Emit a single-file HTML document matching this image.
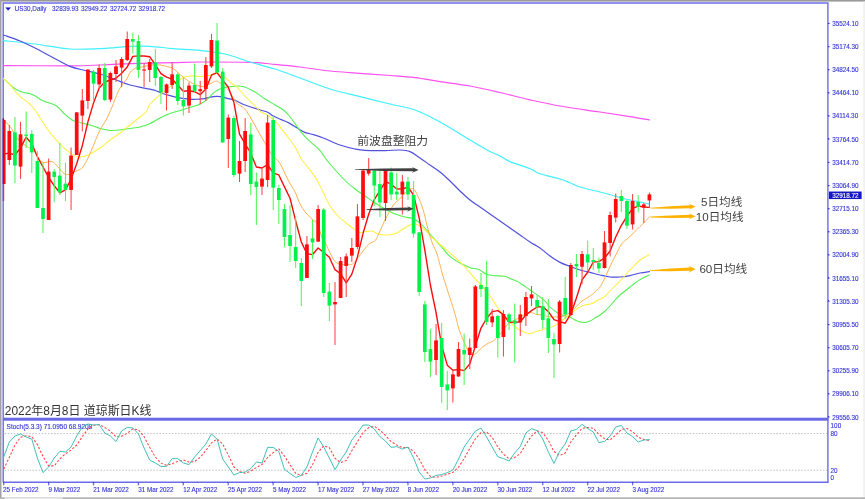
<!DOCTYPE html>
<html><head><meta charset="utf-8"><title>US30 Daily</title>
<style>html,body{margin:0;padding:0;background:#fff}svg{display:block}text{font-family:"Liberation Sans",sans-serif}</style></head><body>
<svg width="865" height="499" viewBox="0 0 865 499">
<defs>
<filter id="b" x="-5%" y="-5%" width="110%" height="110%"><feGaussianBlur stdDeviation="0.35"/></filter>
<clipPath id="c"><rect x="3.6" y="3.6" width="823.7" height="414.3"/></clipPath>
</defs>
<rect width="865" height="499" fill="#fff"/>
<rect x="0" y="0" width="865" height="1.6" fill="#9a9a9a"/>
<rect x="0" y="0" width="1.5" height="499" fill="#a2a2a2"/>
<rect x="863.2" y="1.6" width="1.8" height="497" fill="#f1f1f1"/>
<rect x="0" y="497.3" width="865" height="1.7" fill="#b4b4b4"/>
<rect x="4.6" y="497.3" width="58" height="1.7" fill="#e6e6e6"/>
<g filter="url(#b)">
<g fill="none" stroke="#6c6cea" stroke-width="1.4">
<path d="M3.2 482.2V3.0H827.9V482.2"/>
<path d="M3.2 482.3H828.6"/>
</g>
<rect x="3" y="417.7" width="825.5" height="3.0" fill="#6a6ae4"/>
<g font-size="6.35" fill="#3434d6" stroke="#3434d6" stroke-width="0.12">
<rect x="828" y="23" width="1.7" height="1" fill="#6c6cea"/>
<text x="832.2" y="25.8">35524.10</text>
<rect x="828" y="46.16" width="1.7" height="1" fill="#6c6cea"/>
<text x="832.2" y="48.96">35174.30</text>
<rect x="828" y="69.32" width="1.7" height="1" fill="#6c6cea"/>
<text x="832.2" y="72.12">34824.50</text>
<rect x="828" y="92.48" width="1.7" height="1" fill="#6c6cea"/>
<text x="832.2" y="95.28">34464.10</text>
<rect x="828" y="115.64" width="1.7" height="1" fill="#6c6cea"/>
<text x="832.2" y="118.44">34114.30</text>
<rect x="828" y="138.8" width="1.7" height="1" fill="#6c6cea"/>
<text x="832.2" y="141.6">33764.50</text>
<rect x="828" y="161.96" width="1.7" height="1" fill="#6c6cea"/>
<text x="832.2" y="164.76">33414.70</text>
<rect x="828" y="185.12" width="1.7" height="1" fill="#6c6cea"/>
<text x="832.2" y="187.92">33064.90</text>
<rect x="828" y="208.28" width="1.7" height="1" fill="#6c6cea"/>
<text x="832.2" y="211.08">32715.10</text>
<rect x="828" y="231.44" width="1.7" height="1" fill="#6c6cea"/>
<text x="832.2" y="234.24">32365.30</text>
<rect x="828" y="254.6" width="1.7" height="1" fill="#6c6cea"/>
<text x="832.2" y="257.4">32004.90</text>
<rect x="828" y="277.76" width="1.7" height="1" fill="#6c6cea"/>
<text x="832.2" y="280.56">31655.10</text>
<rect x="828" y="300.92" width="1.7" height="1" fill="#6c6cea"/>
<text x="832.2" y="303.72">31305.30</text>
<rect x="828" y="324.08" width="1.7" height="1" fill="#6c6cea"/>
<text x="832.2" y="326.88">30955.50</text>
<rect x="828" y="347.24" width="1.7" height="1" fill="#6c6cea"/>
<text x="832.2" y="350.04">30605.70</text>
<rect x="828" y="370.4" width="1.7" height="1" fill="#6c6cea"/>
<text x="832.2" y="373.2">30255.90</text>
<rect x="828" y="393.56" width="1.7" height="1" fill="#6c6cea"/>
<text x="832.2" y="396.36">29906.10</text>
<rect x="828" y="416.72" width="1.7" height="1" fill="#6c6cea"/>
<text x="832.2" y="419.52">29556.30</text>
<rect x="829" y="191.6" width="32.6" height="7.4" fill="#1414c8"/>
<text x="832.2" y="197.6" fill="#fff" stroke="#fff">32918.72</text>
<text x="830.6" y="427.6">100</text>
<text x="830.6" y="436.1">80</text>
<text x="830.6" y="472.7">20</text>
<text x="830.6" y="480.3">0</text>
<path d="M5.4 7.6H10.9L8.15 10.6Z" fill="#1414c8"/>
<text x="14.7" y="11.2">US30,Daily</text>
<text x="52.1" y="11.2">32839.93</text>
<text x="80.9" y="11.2">32949.22</text>
<text x="109.9" y="11.2">32724.72</text>
<text x="138.6" y="11.2">32918.72</text>
<text x="6.6" y="429" font-size="6.48">Stoch(5.3.3) 71.0950 68.9208</text>
<rect x="3.15" y="482" width="1.1" height="3.2" fill="#6c6cea"/>
<text x="3.1" y="492.2" font-size="6.3">25 Feb 2022</text>
<rect x="48.07" y="482" width="1.1" height="3.2" fill="#6c6cea"/>
<text x="48.42" y="492.2" font-size="6.3">9 Mar 2022</text>
<rect x="92.99" y="482" width="1.1" height="3.2" fill="#6c6cea"/>
<text x="93.34" y="492.2" font-size="6.3">21 Mar 2022</text>
<rect x="137.91" y="482" width="1.1" height="3.2" fill="#6c6cea"/>
<text x="138.26" y="492.2" font-size="6.3">31 Mar 2022</text>
<rect x="182.83" y="482" width="1.1" height="3.2" fill="#6c6cea"/>
<text x="183.18" y="492.2" font-size="6.3">12 Apr 2022</text>
<rect x="227.75" y="482" width="1.1" height="3.2" fill="#6c6cea"/>
<text x="228.1" y="492.2" font-size="6.3">25 Apr 2022</text>
<rect x="272.67" y="482" width="1.1" height="3.2" fill="#6c6cea"/>
<text x="273.02" y="492.2" font-size="6.3">5 May 2022</text>
<rect x="317.59" y="482" width="1.1" height="3.2" fill="#6c6cea"/>
<text x="317.94" y="492.2" font-size="6.3">17 May 2022</text>
<rect x="362.51" y="482" width="1.1" height="3.2" fill="#6c6cea"/>
<text x="362.86" y="492.2" font-size="6.3">27 May 2022</text>
<rect x="407.43" y="482" width="1.1" height="3.2" fill="#6c6cea"/>
<text x="407.78" y="492.2" font-size="6.3">8 Jun 2022</text>
<rect x="452.35" y="482" width="1.1" height="3.2" fill="#6c6cea"/>
<text x="452.7" y="492.2" font-size="6.3">20 Jun 2022</text>
<rect x="497.27" y="482" width="1.1" height="3.2" fill="#6c6cea"/>
<text x="497.62" y="492.2" font-size="6.3">30 Jun 2022</text>
<rect x="542.19" y="482" width="1.1" height="3.2" fill="#6c6cea"/>
<text x="542.54" y="492.2" font-size="6.3">12 Jul 2022</text>
<rect x="587.11" y="482" width="1.1" height="3.2" fill="#6c6cea"/>
<text x="587.46" y="492.2" font-size="6.3">22 Jul 2022</text>
<rect x="632.03" y="482" width="1.1" height="3.2" fill="#6c6cea"/>
<text x="632.38" y="492.2" font-size="6.3">3 Aug 2022</text>
</g>
<g stroke="#b8b8b8" stroke-width="0.9" stroke-dasharray="1.5 1.6">
<path d="M4.5 433.6H827"/><path d="M4.5 470.2H827"/>
</g>
<g fill="none" stroke-linejoin="round" stroke-linecap="round">
<path d="M3.5 65.6C14.58 65.63 53.92 65.9 70 65.8C86.08 65.7 90 65.37 100 65C110 64.63 117.83 64 130 63.6C142.17 63.2 161.33 62.87 173 62.6C184.67 62.33 187.17 62.03 200 62C212.83 61.97 237.5 62 250 62.4C262.5 62.8 266.67 63.63 275 64.4C283.33 65.17 290.83 65.9 300 67C309.17 68.1 320 69.93 330 71C340 72.07 350 72.65 360 73.4C370 74.15 380.83 74.78 390 75.5C399.17 76.22 406.67 76.68 415 77.7C423.33 78.72 430.83 80.22 440 81.6C449.17 82.98 460 84.18 470 86C480 87.82 490 90.2 500 92.5C510 94.8 520 97.55 530 99.8C540 102.05 548.33 103.97 560 106C571.67 108.03 588.33 110.23 600 112C611.67 113.77 621.75 115.27 630 116.6C638.25 117.93 646.25 119.43 649.5 120" stroke="#ff50f0" stroke-width="1.2"/>
<path d="M3.5 40.6C8.75 41.17 23.92 42.6 35 44C46.08 45.4 59.17 48.23 70 49C80.83 49.77 92.5 48.83 100 48.6C107.5 48.37 110 47.97 115 47.6C120 47.23 124.17 46.62 130 46.4C135.83 46.18 142.83 45.93 150 46.3C157.17 46.67 164.67 47.92 173 48.6C181.33 49.28 191.33 49.5 200 50.4C208.67 51.3 216.67 52.07 225 54C233.33 55.93 241.67 59.5 250 62C258.33 64.5 266.67 66.33 275 69C283.33 71.67 290.83 74.67 300 78C309.17 81.33 320 85.9 330 89C340 92.1 350 94.1 360 96.6C370 99.1 380.83 101.77 390 104C399.17 106.23 406.67 107 415 110C423.33 113 430.83 117 440 122C449.17 127 462.17 135.33 470 140C477.83 144.67 482 147.33 487 150C492 152.67 496.17 154.07 500 156C503.83 157.93 505 159.48 510 161.6C515 163.72 525 166.68 530 168.7C535 170.72 535 171.98 540 173.7C545 175.42 555 177.5 560 179C565 180.5 566.67 181.37 570 182.7C573.33 184.03 575 185.45 580 187C585 188.55 594.17 190.5 600 192C605.83 193.5 610.83 194.83 615 196C619.17 197.17 621.67 198.17 625 199C628.33 199.83 631.67 200.33 635 201C638.33 201.67 642.58 202.5 645 203C647.42 203.5 648.75 203.83 649.5 204" stroke="#40f0ff" stroke-width="1.2"/>
<path d="M3.5 35C6.25 36 14.75 38.83 20 41C25.25 43.17 30 45.5 35 48C40 50.5 44.17 52.93 50 56C55.83 59.07 64.17 63.98 70 66.4C75.83 68.82 80 69.23 85 70.5C90 71.77 95 72.5 100 74C105 75.5 110 77.67 115 79.5C120 81.33 124.17 83.38 130 85C135.83 86.62 145.67 88.25 150 89.2C154.33 90.15 154 90.03 156 90.7C158 91.37 159.65 92.37 162 93.2C164.35 94.03 167.4 94.95 170.1 95.7C172.8 96.45 175.68 97.2 178.2 97.7C180.72 98.2 182.85 98.42 185.2 98.7C187.55 98.98 190.12 99.32 192.3 99.4C194.48 99.48 196.3 99.32 198.3 99.2C200.3 99.08 202.28 99.03 204.3 98.7C206.32 98.37 208.38 97.58 210.4 97.2C212.42 96.82 214.73 96.48 216.4 96.4C218.07 96.32 218.72 96.4 220.4 96.7C222.08 97 224.48 97.7 226.5 98.2C228.52 98.7 230.75 99.2 232.5 99.7C234.25 100.2 234.92 100.32 237 101.2C239.08 102.08 241.15 103.53 245 105C248.85 106.47 256.4 108.83 260.1 110C263.8 111.17 265.02 111 267.2 112C269.38 113 270.85 114.73 273.2 116C275.55 117.27 278.62 118.42 281.3 119.6C283.98 120.78 286.62 121.68 289.3 123.1C291.98 124.52 294.72 126.52 297.4 128.1C300.08 129.68 302.72 131.52 305.4 132.6C308.08 133.68 310.4 133.67 313.5 134.6C316.6 135.53 319.58 136.47 324 138.2C328.42 139.93 334.83 143.2 340 145C345.17 146.8 350.83 148.1 355 149C359.17 149.9 360 150.13 365 150.4C370 150.67 379.17 150.67 385 150.6C390.83 150.53 395.83 149.83 400 150C404.17 150.17 406.67 150.27 410 151.6C413.33 152.93 416.67 155.77 420 158C423.33 160.23 426.67 162.67 430 165C433.33 167.33 436.67 169.33 440 172C443.33 174.67 446.67 177.83 450 181C453.33 184.17 456.67 187.83 460 191C463.33 194.17 466.67 197.33 470 200C473.33 202.67 476.67 204.67 480 207C483.33 209.33 486.67 211.67 490 214C493.33 216.33 496.67 218.67 500 221C503.33 223.33 506.67 225.67 510 228C513.33 230.33 516.67 232.67 520 235C523.33 237.33 526.67 239.83 530 242C533.33 244.17 536.67 245.67 540 248C543.33 250.33 546.67 253.6 550 256C553.33 258.4 556.67 260.67 560 262.4C563.33 264.13 566.67 265.13 570 266.4C573.33 267.67 576.67 269 580 270C583.33 271 586.67 271.57 590 272.4C593.33 273.23 596.67 274.23 600 275C603.33 275.77 606.67 276.67 610 277C613.33 277.33 616.67 277.23 620 277C623.33 276.77 626.67 276.27 630 275.6C633.33 274.93 636.75 273.67 640 273C643.25 272.33 647.92 271.83 649.5 271.6" stroke="#5050e0" stroke-width="1.2"/>
<path d="M3.5 78.6C4.58 79.6 8.08 82.92 10 84.6C11.92 86.28 13.33 87.6 15 88.7C16.67 89.8 18.33 90.53 20 91.2C21.67 91.87 23.33 92.28 25 92.7C26.67 93.12 28.33 93.2 30 93.7C31.67 94.2 33.33 94.78 35 95.7C36.67 96.62 38.28 98.2 40 99.2C41.72 100.2 43.58 101.02 45.3 101.7C47.02 102.38 48.63 102.7 50.3 103.3C51.97 103.9 53.62 104.3 55.3 105.3C56.98 106.3 58.95 107.93 60.4 109.3C61.85 110.67 62.07 111.72 64 113.5C65.93 115.28 69.33 118.52 72 120C74.67 121.48 77 121.57 80 122.4C83 123.23 86.67 124 90 125C93.33 126 96.67 127.5 100 128.4C103.33 129.3 106.67 130.13 110 130.4C113.33 130.67 116.67 130.33 120 130C123.33 129.67 126.67 128.9 130 128.4C133.33 127.9 136.67 127.8 140 127C143.33 126.2 146.67 125.1 150 123.6C153.33 122.1 156.67 119.68 160 118C163.33 116.32 166.47 114.8 170 113.5C173.53 112.2 177.83 111.23 181.2 110.2C184.57 109.17 187.52 108.12 190.2 107.3C192.88 106.48 195.12 106.13 197.3 105.3C199.48 104.47 201.45 103.48 203.3 102.3C205.15 101.12 206.55 99.88 208.4 98.2C210.25 96.52 212.4 93.78 214.4 92.2C216.4 90.62 218.38 89.53 220.4 88.7C222.42 87.87 224.48 87.58 226.5 87.2C228.52 86.82 229.75 86.53 232.5 86.4C235.25 86.27 239.25 85.47 243 86.4C246.75 87.33 251.33 89.9 255 92C258.67 94.1 261.67 96.83 265 99C268.33 101.17 271.95 103.17 275 105C278.05 106.83 280.92 108.17 283.3 110C285.68 111.83 287.28 113.65 289.3 116C291.32 118.35 293.55 121.58 295.4 124.1C297.25 126.62 298.4 128.58 300.4 131.1C302.4 133.62 304.88 136.68 307.4 139.2C309.92 141.72 313.32 144.2 315.5 146.2C317.68 148.2 319.08 149.52 320.5 151.2C321.92 152.88 322.42 154.17 324 156.3C325.58 158.43 326.5 159.97 330 164C333.5 168.03 340.83 176.33 345 180.5C349.17 184.67 351.67 186.42 355 189C358.33 191.58 361.67 193.67 365 196C368.33 198.33 371.67 200.83 375 203C378.33 205.17 381.67 207.17 385 209C388.33 210.83 391.67 212.67 395 214C398.33 215.33 402.17 216.28 405 217C407.83 217.72 409.83 217.55 412 218.3C414.17 219.05 416.33 220.38 418 221.5C419.67 222.62 420.33 223.33 422 225C423.67 226.67 425.67 228.87 428 231.5C430.33 234.13 434 238.47 436 240.8C438 243.13 438.67 244.03 440 245.5C441.33 246.97 442.82 248.25 444 249.6C445.18 250.95 445.42 251.93 447.1 253.6C448.78 255.27 451.58 257.85 454.1 259.6C456.62 261.35 459.52 262.75 462.2 264.1C464.88 265.45 467.35 266.77 470.2 267.7C473.05 268.63 476.62 268.62 479.3 269.7C481.98 270.78 483.78 273.2 486.3 274.2C488.82 275.2 491.38 275.37 494.4 275.7C497.42 276.03 501.72 275.7 504.4 276.2C507.08 276.7 508.4 277.87 510.5 278.7C512.6 279.53 515.42 280.48 517 281.2C518.58 281.92 517.83 281.53 520 283C522.17 284.47 526.67 287.67 530 290C533.33 292.33 537.5 295.17 540 297C542.5 298.83 543.33 299.33 545 301C546.67 302.67 548.33 305.33 550 307C551.67 308.67 553.33 309.77 555 311C556.67 312.23 558.33 313.63 560 314.4C561.67 315.17 563.33 315.17 565 315.6C566.67 316.03 568.33 316.27 570 317C571.67 317.73 573.33 319.17 575 320C576.67 320.83 578.33 321.6 580 322C581.67 322.4 583.33 322.57 585 322.4C586.67 322.23 588.33 321.73 590 321C591.67 320.27 593.33 319 595 318C596.67 317 598.33 316.17 600 315C601.67 313.83 603.33 312.5 605 311C606.67 309.5 608.33 307.83 610 306C611.67 304.17 613.33 301.83 615 300C616.67 298.17 618.33 296.5 620 295C621.67 293.5 623.33 292.33 625 291C626.67 289.67 628.33 288.33 630 287C631.67 285.67 633.33 284.23 635 283C636.67 281.77 638.33 280.6 640 279.6C641.67 278.6 643.42 277.77 645 277C646.58 276.23 648.75 275.33 649.5 275" stroke="#50f050" stroke-width="1.05"/>
<path d="M3.5 78.6C4.25 79.33 6.75 81.82 8 83C9.25 84.18 9.83 84.33 11 85.7C12.17 87.07 13.5 89.37 15 91.2C16.5 93.03 18.33 95.2 20 96.7C21.67 98.2 23.3 98.93 25 100.2C26.7 101.47 28.58 102.7 30.2 104.3C31.82 105.9 33.03 107.52 34.7 109.8C36.37 112.08 38.1 114.8 40.2 118C42.3 121.2 44.62 125.3 47.3 129C49.98 132.7 53.45 136.98 56.3 140.2C59.15 143.42 61.72 145.9 64.4 148.3C67.08 150.7 69.8 153.15 72.4 154.6C75 156.05 77.4 156.93 80 157C82.6 157.07 84.67 156.5 88 155C91.33 153.5 96.33 150.5 100 148C103.67 145.5 106.67 142.5 110 140C113.33 137.5 116.67 135.5 120 133C123.33 130.5 126.67 127.67 130 125C133.33 122.33 137.33 119.17 140 117C142.67 114.83 144.33 114.12 146 112C147.67 109.88 148.33 106.6 150 104.3C151.67 102 154 100.05 156 98.2C158 96.35 159.65 95.12 162 93.2C164.35 91.28 167.73 88.55 170.1 86.7C172.47 84.85 174.02 83.62 176.2 82.1C178.38 80.58 180.87 78.6 183.2 77.6C185.53 76.6 188.35 76.38 190.2 76.1C192.05 75.82 192.62 75.82 194.3 75.9C195.98 75.98 198.63 76.57 200.3 76.6C201.97 76.63 202.62 76.35 204.3 76.1C205.98 75.85 208.55 75.6 210.4 75.1C212.25 74.6 213.73 73.18 215.4 73.1C217.07 73.02 218.55 73.68 220.4 74.6C222.25 75.52 224.48 77.02 226.5 78.6C228.52 80.18 230.75 82.67 232.5 84.1C234.25 85.53 234.92 85.22 237 87.2C239.08 89.18 242 92.87 245 96C248 99.13 252.32 103.33 255 106C257.68 108.67 259.07 110.5 261.1 112C263.13 113.5 265.35 113.9 267.2 115C269.05 116.1 270.53 117.25 272.2 118.6C273.87 119.95 275.52 121.18 277.2 123.1C278.88 125.02 280.62 127.92 282.3 130.1C283.98 132.28 285.47 133.85 287.3 136.2C289.13 138.55 291.62 141.7 293.3 144.2C294.98 146.7 296.05 148.68 297.4 151.2C298.75 153.72 299.3 156.17 301.4 159.3C303.5 162.43 307.4 166.55 310 170C312.6 173.45 314.83 176.33 317 180C319.17 183.67 320.83 187.67 323 192C325.17 196.33 327.5 202 330 206C332.5 210 335.33 213.17 338 216C340.67 218.83 343.33 220.83 346 223C348.67 225.17 351.67 227.43 354 229C356.33 230.57 358 231.97 360 232.4C362 232.83 364 231.83 366 231.6C368 231.37 370 230.6 372 231C374 231.4 375.83 233.33 378 234C380.17 234.67 382.83 234.93 385 235C387.17 235.07 389 234.73 391 234.4C393 234.07 395 233.9 397 233C399 232.1 400.5 230.5 403 229C405.5 227.5 409.5 224.67 412 224C414.5 223.33 415.83 224 418 225C420.17 226 422.67 227.92 425 230C427.33 232.08 428.98 234.67 432 237.5C435.02 240.33 439.58 243.98 443.1 247C446.62 250.02 449.75 252.57 453.1 255.6C456.45 258.63 460.35 262.27 463.2 265.2C466.05 268.13 467.85 270.53 470.2 273.2C472.55 275.87 475.28 279.02 477.3 281.2C479.32 283.38 480.18 283.83 482.3 286.3C484.42 288.77 487.38 292.38 490 296C492.62 299.62 495.5 304.33 498 308C500.5 311.67 502.67 315.33 505 318C507.33 320.67 509.83 322.17 512 324C514.17 325.83 516 327.67 518 329C520 330.33 522 331.23 524 332C526 332.77 528 333.67 530 333.6C532 333.53 534 332.2 536 331.6C538 331 540 330.6 542 330C544 329.4 545.83 328.77 548 328C550.17 327.23 552.67 326.65 555 325.4C557.33 324.15 559.83 322.07 562 320.5C564.17 318.93 566.17 317.42 568 316C569.83 314.58 571.33 313.33 573 312C574.67 310.67 576 309.17 578 308C580 306.83 582.67 305.73 585 305C587.33 304.27 589.83 304.43 592 303.6C594.17 302.77 596 301.1 598 300C600 298.9 602 298.5 604 297C606 295.5 608 293 610 291C612 289 614 287 616 285C618 283 620 281.17 622 279C624 276.83 626 274.17 628 272C630 269.83 632 268 634 266C636 264 638.17 261.5 640 260C641.83 258.5 643.42 257.9 645 257C646.58 256.1 648.75 255 649.5 254.6" stroke="#fff040" stroke-width="1.05"/>
<path d="M4 120C5 121.1 8.5 124.77 10 126.6C11.5 128.43 11.83 129.1 13 131C14.17 132.9 15.33 135.88 17 138C18.67 140.12 20.83 141.98 23 143.7C25.17 145.42 28.33 147.42 30 148.3C31.67 149.18 31.67 147.55 33 149C34.33 150.45 36.33 154.77 38 157C39.67 159.23 40.67 161.63 43 162.4C45.33 163.17 49.5 160.83 52 161.6C54.5 162.37 56 165 58 167C60 169 62.17 172.37 64 173.6C65.83 174.83 67 174.83 69 174.4C71 173.97 73.83 172.07 76 171C78.17 169.93 80 170.17 82 168C84 165.83 86 162 88 158C90 154 92 148.67 94 144C96 139.33 98 134 100 130C102 126 104 123.83 106 120C108 116.17 110 111.67 112 107C114 102.33 116 96.17 118 92C120 87.83 122.63 83.97 124 82C125.37 80.03 125.15 81.82 126.2 80.2C127.25 78.58 128.78 74.3 130.3 72.3C131.82 70.3 133.47 69.05 135.3 68.2C137.13 67.35 139.28 67.62 141.3 67.2C143.32 66.78 145.05 66.12 147.4 65.7C149.75 65.28 153.05 64.78 155.4 64.7C157.75 64.62 159.48 64.87 161.5 65.2C163.52 65.53 165.75 66.28 167.5 66.7C169.25 67.12 170.72 67.13 172 67.7C173.28 68.27 173.83 68.95 175.2 70.1C176.57 71.25 178.53 73.18 180.2 74.6C181.87 76.02 183.53 77.35 185.2 78.6C186.87 79.85 188.52 81.1 190.2 82.1C191.88 83.1 193.62 83.92 195.3 84.6C196.98 85.28 198.8 85.85 200.3 86.2C201.8 86.55 202.95 86.97 204.3 86.7C205.65 86.43 207.05 85.28 208.4 84.6C209.75 83.92 211.07 83.18 212.4 82.6C213.73 82.02 215.07 81.02 216.4 81.1C217.73 81.18 219.07 82.25 220.4 83.1C221.73 83.95 223.05 85.02 224.4 86.2C225.75 87.38 226.98 88.2 228.5 90.2C230.02 92.2 232.08 96.02 233.5 98.2C234.92 100.38 236 102.13 237 103.3C238 104.47 238.15 104.2 239.5 105.2C240.85 106.2 243.22 107.17 245.1 109.3C246.98 111.43 248.92 114.88 250.8 118C252.68 121.12 254.53 124.67 256.4 128C258.27 131.33 260.13 134.8 262 138C263.87 141.2 265.98 144.48 267.6 147.2C269.22 149.92 269.63 151.58 271.7 154.3C273.77 157.02 277.28 159.22 280 163.5C282.72 167.78 285.5 175.25 288 180C290.5 184.75 293 188 295 192C297 196 298.17 200.5 300 204C301.83 207.5 304 210.5 306 213C308 215.5 310 217 312 219C314 221 316.33 221.83 318 225C319.67 228.17 320.72 234.83 322 238C323.28 241.17 324.33 241.48 325.7 244C327.07 246.52 328.78 250.33 330.2 253.1C331.62 255.87 332.87 258.85 334.2 260.6C335.53 262.35 336.68 262.93 338.2 263.6C339.72 264.27 341.62 264.43 343.3 264.6C344.98 264.77 346.8 264.68 348.3 264.6C349.8 264.52 350.97 264.85 352.3 264.1C353.63 263.35 354.95 261.68 356.3 260.1C357.65 258.52 359.05 256.43 360.4 254.6C361.75 252.77 363.07 250.78 364.4 249.1C365.73 247.42 367.07 245.68 368.4 244.5C369.73 243.32 371.22 242.7 372.4 242C373.58 241.3 374.23 242.13 375.5 240.3C376.77 238.47 378.42 234.38 380 231C381.58 227.62 382.78 224.3 385 220C387.22 215.7 390.92 208.65 393.3 205.2C395.68 201.75 397.28 201.38 399.3 199.3C401.32 197.22 403.55 194.47 405.4 192.7C407.25 190.93 408.9 189.2 410.4 188.7C411.9 188.2 413.23 188.62 414.4 189.7C415.57 190.78 416.38 193.1 417.4 195.2C418.42 197.3 419.4 199.33 420.5 202.3C421.6 205.27 422.72 208.38 424 213C425.28 217.62 426.77 224.83 428.2 230C429.63 235.17 431.13 240 432.6 244C434.07 248 435.27 248.67 437 254C438.73 259.33 440.83 268.67 443 276C445.17 283.33 448 291.67 450 298C452 304.33 453.47 308.67 455 314C456.53 319.33 457.82 325.67 459.2 330C460.58 334.33 461.95 336.82 463.3 340C464.65 343.18 465.97 346.67 467.3 349.1C468.63 351.53 470.05 353.77 471.3 354.6C472.55 355.43 473.62 354.68 474.8 354.1C475.98 353.52 477.13 352.27 478.4 351.1C479.67 349.93 480.73 348.43 482.4 347.1C484.07 345.77 486.73 344.02 488.4 343.1C490.07 342.18 491.05 342.45 492.4 341.6C493.75 340.75 494.9 339.6 496.5 338C498.1 336.4 500.08 334.33 502 332C503.92 329.67 505.88 326 508 324C510.12 322 512.65 321.17 514.7 320C516.75 318.83 518.43 318 520.3 317C522.17 316 524.03 314.73 525.9 314C527.77 313.27 529.65 312.5 531.5 312.6C533.35 312.7 535.13 314.2 537 314.6C538.87 315 540.82 314.65 542.7 315C544.58 315.35 546.42 316.37 548.3 316.7C550.18 317.03 552.12 317 554 317C555.88 317 557.73 316.93 559.6 316.7C561.47 316.47 563.33 316.47 565.2 315.6C567.07 314.73 568.93 313.02 570.8 311.5C572.67 309.98 574.53 308.25 576.4 306.5C578.27 304.75 580.12 302.5 582 301C583.88 299.5 585.82 298.75 587.7 297.5C589.58 296.25 591.8 294.72 593.3 293.5C594.8 292.28 595.55 291.32 596.7 290.2C597.85 289.08 598.93 288.63 600.2 286.8C601.47 284.97 602.95 281.97 604.3 279.2C605.65 276.43 606.97 273.13 608.3 270.2C609.63 267.27 610.97 264.3 612.3 261.6C613.63 258.9 614.95 256.6 616.3 254C617.65 251.4 619.22 248 620.4 246C621.58 244 622.13 243.3 623.4 242C624.67 240.7 626.23 239.78 628 238.2C629.77 236.62 632 234.45 634 232.5C636 230.55 638.17 228.3 640 226.5C641.83 224.7 643.42 223.35 645 221.7C646.58 220.05 648.75 217.45 649.5 216.6" stroke="#ffb050" stroke-width="1.0"/>
<path d="M3.7 154L9.32 153.12L14.93 154.97L20.54 147.91L26.16 137.19L31.78 143.74L37.39 156.72L43.01 167.01L48.62 177.3L54.24 185.76L59.85 192.81L65.47 189.89L71.08 179.12L76.7 163.8L82.31 145.69L87.93 121.92L93.54 102.89L99.16 88.12L104.77 82.03L110.39 80.01L116 78.2L121.62 73.18L127.23 66.94L132.84 56.4L138.46 55.85L144.07 55.99L149.69 56.7L155.31 64.61L160.92 73.71L166.53 77.11L172.15 79.08L177.76 85.16L183.38 91.18L189 90.7L194.61 91.71L200.22 94.68L205.84 89.1L211.45 75.21L217.07 72.61L222.69 80.08L228.3 87.2L233.91 102.39L239.53 134.15L245.15 143.78L250.76 153.23L256.38 166.94L261.99 168L267.61 164.55L273.22 173.07L278.83 174.94L284.45 186.9L290.06 198.26L295.68 220.92L301.3 241.98L306.91 253.6L312.52 254.57L318.14 248.03L323.75 252.56L329.37 257.27L334.99 269.67L340.6 273.7L346.21 282.78L351.83 274.11L357.44 256.9L363.06 233.29L368.68 214.23L374.29 199.53L379.91 190.69L385.52 181.71L391.13 184.23L396.75 188.96L402.37 188.9L407.98 187.21L413.6 195.19L419.21 218.05L424.82 250.16L430.44 285.25L436.06 312.59L441.67 345.79L447.29 365.15L452.9 370.2L458.51 369.4L464.13 370.67L469.75 364.06L475.36 346.13L480.98 328.07L486.59 318.52L492.2 311.6L497.82 310.61L503.44 314.65L509.05 322.2L514.67 322.4L520.28 321.7L525.9 315.01L531.51 310.59L537.13 307L542.74 306.64L548.36 311.68L553.97 319.66L559.59 321.69L565.2 323.2L570.82 313.96L576.43 297.9L582.05 279.94L587.66 272.25L593.28 262.05L598.89 261.6L604.51 257.99L610.12 250.95L615.74 237.04L621.35 225.3L626.97 216.31L632.58 208.42L638.2 206.04L643.81 207.05L649.43 207.4" stroke="#f41010" stroke-width="1.4"/>
<path d="M3.7 469L9.32 457.5L14.93 445L20.54 437.33L26.16 435.67L31.78 436.67L37.39 444.67L43.01 456.53L48.62 465.87L54.24 465.87L59.85 458.8L65.47 453.8L71.08 450.13L76.7 445L82.31 436.67L87.93 429L93.54 425.33L99.16 424.53L104.77 427.53L110.39 431.2L116 436.87L121.62 436.2L127.23 433.33L132.84 428.8L138.46 429.8L144.07 436.67L149.69 447.33L155.31 457L160.92 463.13L166.53 465.3L172.15 463.83L177.76 461.23L183.38 460.07L189 462.07L194.61 461.53L200.22 457.4L205.84 450.53L211.45 442.87L217.07 439L222.69 444L228.3 455L233.91 467L239.53 471.53L245.15 473.2L250.76 471.07L256.38 467.53L261.99 464.53L267.61 457.47L273.22 452.6L278.83 448.73L284.45 456.07L290.06 464.73L295.68 473.4L301.3 475.4L306.91 473.27L312.52 464.8L318.14 452.33L323.75 445.67L329.37 447.67L334.99 458.23L340.6 462.57L346.21 460.57L351.83 450.67L357.44 441.67L363.06 432.67L368.68 427.67L374.29 426.33L379.91 430.2L385.52 435.53L391.13 441.67L396.75 445L402.37 447.67L407.98 447.53L413.6 451.33L419.21 459L424.82 469.67L430.44 476.33L436.06 477.47L441.67 476L447.29 474.2L452.9 472.4L458.51 467.2L464.13 458.67L469.75 448.33L475.36 439L480.98 432.67L486.59 432L492.2 437.33L497.82 446.93L503.44 454.13L509.05 458.8L514.67 457.53L520.28 453.53L525.9 444.2L531.51 436.07L537.13 430.73L542.74 432.73L548.36 440.53L553.97 451.47L559.59 455.6L565.2 452.93L570.82 442.13L576.43 434.8L582.05 428.27L587.66 427.47L593.28 428.33L598.89 434.4L604.51 438.67L610.12 440L615.74 434.8L621.35 429.47L626.97 428.47L632.58 431.67L638.2 437.2L643.81 439.53L649.43 440.53" stroke="#ff4040" stroke-width="1.05" stroke-dasharray="2.2 1.8" stroke-linecap="butt"/>
<path d="M3.7 457L9.32 442L14.93 436L20.54 434L26.16 437L31.78 439L37.39 458L43.01 472.6L48.62 467L54.24 458L59.85 451.4L65.47 452L71.08 447L76.7 436L82.31 427L87.93 424L93.54 425L99.16 424.6L104.77 433L110.39 436L116 441.6L121.62 431L127.23 427.4L132.84 428L138.46 434L144.07 448L149.69 460L155.31 463L160.92 466.4L166.53 466.5L172.15 458.6L177.76 458.6L183.38 463L189 464.6L194.61 457L200.22 450.6L205.84 444L211.45 434L217.07 439L222.69 459L228.3 467L233.91 475L239.53 472.6L245.15 472L250.76 468.6L256.38 462L261.99 463L267.61 447.4L273.22 447.4L278.83 451.4L284.45 469.4L290.06 473.4L295.68 477.4L301.3 475.4L306.91 467L312.52 452L318.14 438L323.75 447L329.37 458L334.99 469.7L340.6 460L346.21 452L351.83 440L357.44 433L363.06 425L368.68 425L374.29 429L379.91 436.6L385.52 441L391.13 447.4L396.75 446.6L402.37 449L407.98 447L413.6 458L419.21 472L424.82 479L430.44 478L436.06 475.4L441.67 474.6L447.29 472.6L452.9 470L458.51 459L464.13 447L469.75 439L475.36 431L480.98 428L486.59 437L492.2 447L497.82 456.8L503.44 458.6L509.05 461L514.67 453L520.28 446.6L525.9 433L531.51 428.6L537.13 430.6L542.74 439L548.36 452L553.97 463.4L559.59 451.4L565.2 444L570.82 431L576.43 429.4L582.05 424.4L587.66 428.6L593.28 432L598.89 442.6L604.51 441.4L610.12 436L615.74 427L621.35 425.4L626.97 433L632.58 436.6L638.2 442L643.81 440L649.43 439.6" stroke="#38bcb4" stroke-width="0.95"/>
</g>
<g clip-path="url(#c)">
<path d="M3.7 118V201" stroke="#ff4444" stroke-width="1.05"/>
<rect x="1.85" y="120" width="3.7" height="64" fill="#ff0808"/>
<path d="M9.32 125V165" stroke="#ff4444" stroke-width="1.05"/>
<rect x="7.47" y="131" width="3.7" height="29" fill="#ff0808"/>
<path d="M14.93 117V183" stroke="#50f658" stroke-width="1.05"/>
<rect x="13.08" y="132.4" width="3.7" height="33.2" fill="#00f24c"/>
<path d="M20.54 122V179" stroke="#ff4444" stroke-width="1.05"/>
<rect x="18.69" y="134.4" width="3.7" height="32.2" fill="#ff0808"/>
<path d="M26.16 111.5V148" stroke="#50f658" stroke-width="1.05"/>
<rect x="24.31" y="134.6" width="3.7" height="1.2" fill="#00f24c"/>
<path d="M31.78 130V173" stroke="#50f658" stroke-width="1.05"/>
<rect x="29.93" y="134" width="3.7" height="18.4" fill="#00f24c"/>
<path d="M37.39 151V208" stroke="#50f658" stroke-width="1.05"/>
<rect x="35.54" y="161" width="3.7" height="47" fill="#00f24c"/>
<path d="M43.01 163V233" stroke="#50f658" stroke-width="1.05"/>
<rect x="41.16" y="208" width="3.7" height="11" fill="#00f24c"/>
<path d="M48.62 158.6V220" stroke="#ff4444" stroke-width="1.05"/>
<rect x="46.77" y="171.6" width="3.7" height="48.4" fill="#ff0808"/>
<path d="M54.24 169V202" stroke="#50f658" stroke-width="1.05"/>
<rect x="52.39" y="171.6" width="3.7" height="5.4" fill="#00f24c"/>
<path d="M59.85 143V195" stroke="#50f658" stroke-width="1.05"/>
<rect x="58" y="175.6" width="3.7" height="16.8" fill="#00f24c"/>
<path d="M65.47 162.4V201" stroke="#50f658" stroke-width="1.05"/>
<rect x="63.62" y="183.6" width="3.7" height="6.4" fill="#00f24c"/>
<path d="M71.08 147.6V210" stroke="#ff4444" stroke-width="1.05"/>
<rect x="69.23" y="155.6" width="3.7" height="34.4" fill="#ff0808"/>
<path d="M76.7 112V155" stroke="#ff4444" stroke-width="1.05"/>
<rect x="74.85" y="112.4" width="3.7" height="42.6" fill="#ff0808"/>
<path d="M82.31 89V131.6" stroke="#ff4444" stroke-width="1.05"/>
<rect x="80.46" y="100.4" width="3.7" height="15.2" fill="#ff0808"/>
<path d="M87.93 69V109" stroke="#ff4444" stroke-width="1.05"/>
<rect x="86.08" y="69.6" width="3.7" height="31.4" fill="#ff0808"/>
<path d="M93.54 70V102" stroke="#50f658" stroke-width="1.05"/>
<rect x="91.69" y="71.6" width="3.7" height="12" fill="#00f24c"/>
<path d="M99.16 64.4V88" stroke="#ff4444" stroke-width="1.05"/>
<rect x="97.31" y="68" width="3.7" height="16.4" fill="#ff0808"/>
<path d="M104.77 63V101" stroke="#50f658" stroke-width="1.05"/>
<rect x="102.92" y="68" width="3.7" height="32" fill="#00f24c"/>
<path d="M110.39 71.6V102" stroke="#ff4444" stroke-width="1.05"/>
<rect x="108.54" y="73" width="3.7" height="26.6" fill="#ff0808"/>
<path d="M116 60V82" stroke="#ff4444" stroke-width="1.05"/>
<rect x="114.15" y="66.4" width="3.7" height="7.6" fill="#ff0808"/>
<path d="M121.62 57V87" stroke="#ff4444" stroke-width="1.05"/>
<rect x="119.77" y="59" width="3.7" height="8.6" fill="#ff0808"/>
<path d="M127.23 31.6V61" stroke="#ff4444" stroke-width="1.05"/>
<rect x="125.38" y="39" width="3.7" height="21" fill="#ff0808"/>
<path d="M132.84 32.4V53.6" stroke="#50f658" stroke-width="1.05"/>
<rect x="131" y="39" width="3.7" height="2.6" fill="#00f24c"/>
<path d="M138.46 35V78" stroke="#50f658" stroke-width="1.05"/>
<rect x="136.61" y="41" width="3.7" height="29" fill="#00f24c"/>
<path d="M144.07 63V87" stroke="#ff4444" stroke-width="1.05"/>
<rect x="142.22" y="69.45" width="3.7" height="1.1" fill="#ff0808"/>
<path d="M149.69 59V82" stroke="#ff4444" stroke-width="1.05"/>
<rect x="147.84" y="62" width="3.7" height="8" fill="#ff0808"/>
<path d="M155.31 49V86" stroke="#50f658" stroke-width="1.05"/>
<rect x="153.46" y="62.4" width="3.7" height="15.6" fill="#00f24c"/>
<path d="M160.92 76V104" stroke="#50f658" stroke-width="1.05"/>
<rect x="159.07" y="77" width="3.7" height="15.4" fill="#00f24c"/>
<path d="M166.53 83.6V110.4" stroke="#ff4444" stroke-width="1.05"/>
<rect x="164.69" y="84.4" width="3.7" height="8.6" fill="#ff0808"/>
<path d="M172.15 62.4V89" stroke="#ff4444" stroke-width="1.05"/>
<rect x="170.3" y="74.4" width="3.7" height="10.6" fill="#ff0808"/>
<path d="M177.76 72.4V105" stroke="#50f658" stroke-width="1.05"/>
<rect x="175.91" y="74.4" width="3.7" height="26.6" fill="#00f24c"/>
<path d="M183.38 78V115.6" stroke="#50f658" stroke-width="1.05"/>
<rect x="181.53" y="100" width="3.7" height="6.4" fill="#00f24c"/>
<path d="M189 82.4V113" stroke="#ff4444" stroke-width="1.05"/>
<rect x="187.15" y="85.6" width="3.7" height="20" fill="#ff0808"/>
<path d="M194.61 63.6V92" stroke="#50f658" stroke-width="1.05"/>
<rect x="192.76" y="85" width="3.7" height="6" fill="#00f24c"/>
<path d="M200.22 81V104" stroke="#ff4444" stroke-width="1.05"/>
<rect x="198.38" y="89.2" width="3.7" height="2" fill="#ff0808"/>
<path d="M205.84 57V101" stroke="#ff4444" stroke-width="1.05"/>
<rect x="203.99" y="65" width="3.7" height="24" fill="#ff0808"/>
<path d="M211.45 34V68" stroke="#ff4444" stroke-width="1.05"/>
<rect x="209.6" y="40" width="3.7" height="26.4" fill="#ff0808"/>
<path d="M217.07 23V73" stroke="#50f658" stroke-width="1.05"/>
<rect x="215.22" y="40.6" width="3.7" height="31.8" fill="#00f24c"/>
<path d="M222.69 68V143" stroke="#50f658" stroke-width="1.05"/>
<rect x="220.84" y="71.6" width="3.7" height="70.8" fill="#00f24c"/>
<path d="M228.3 114.4V168" stroke="#ff4444" stroke-width="1.05"/>
<rect x="226.45" y="117.6" width="3.7" height="21.4" fill="#ff0808"/>
<path d="M233.91 115.6V177" stroke="#50f658" stroke-width="1.05"/>
<rect x="232.06" y="118" width="3.7" height="57" fill="#00f24c"/>
<path d="M239.53 141V182" stroke="#ff4444" stroke-width="1.05"/>
<rect x="237.68" y="161" width="3.7" height="12.6" fill="#ff0808"/>
<path d="M245.15 118V172" stroke="#ff4444" stroke-width="1.05"/>
<rect x="243.3" y="131" width="3.7" height="30" fill="#ff0808"/>
<path d="M250.76 123V195" stroke="#50f658" stroke-width="1.05"/>
<rect x="248.91" y="134.4" width="3.7" height="49.6" fill="#00f24c"/>
<path d="M256.38 172.4V225" stroke="#50f658" stroke-width="1.05"/>
<rect x="254.53" y="181.6" width="3.7" height="5.4" fill="#00f24c"/>
<path d="M261.99 168V195" stroke="#ff4444" stroke-width="1.05"/>
<rect x="260.14" y="178.6" width="3.7" height="8" fill="#ff0808"/>
<path d="M267.61 115V187" stroke="#ff4444" stroke-width="1.05"/>
<rect x="265.75" y="122.6" width="3.7" height="57.4" fill="#ff0808"/>
<path d="M273.22 116V210" stroke="#50f658" stroke-width="1.05"/>
<rect x="271.37" y="120" width="3.7" height="67.6" fill="#00f24c"/>
<path d="M278.83 185V224" stroke="#50f658" stroke-width="1.05"/>
<rect x="276.98" y="188" width="3.7" height="12" fill="#00f24c"/>
<path d="M284.45 204V247" stroke="#50f658" stroke-width="1.05"/>
<rect x="282.6" y="209" width="3.7" height="28" fill="#00f24c"/>
<path d="M290.06 205V262" stroke="#50f658" stroke-width="1.05"/>
<rect x="288.21" y="235" width="3.7" height="11" fill="#00f24c"/>
<path d="M295.68 216V268" stroke="#50f658" stroke-width="1.05"/>
<rect x="293.83" y="247" width="3.7" height="14" fill="#00f24c"/>
<path d="M301.3 258V306" stroke="#50f658" stroke-width="1.05"/>
<rect x="299.44" y="263" width="3.7" height="18" fill="#00f24c"/>
<path d="M306.91 236V278" stroke="#ff4444" stroke-width="1.05"/>
<rect x="305.06" y="244.4" width="3.7" height="33.6" fill="#ff0808"/>
<path d="M312.52 220V259" stroke="#50f658" stroke-width="1.05"/>
<rect x="310.67" y="238.4" width="3.7" height="4" fill="#00f24c"/>
<path d="M318.14 205V242" stroke="#ff4444" stroke-width="1.05"/>
<rect x="316.29" y="209" width="3.7" height="32.6" fill="#ff0808"/>
<path d="M323.75 208V297" stroke="#50f658" stroke-width="1.05"/>
<rect x="321.9" y="209.6" width="3.7" height="83.4" fill="#00f24c"/>
<path d="M329.37 283V321" stroke="#50f658" stroke-width="1.05"/>
<rect x="327.52" y="291.6" width="3.7" height="14" fill="#00f24c"/>
<path d="M334.99 282V345" stroke="#ff4444" stroke-width="1.05"/>
<rect x="333.13" y="302" width="3.7" height="2.4" fill="#ff0808"/>
<path d="M340.6 257V298" stroke="#ff4444" stroke-width="1.05"/>
<rect x="338.75" y="261" width="3.7" height="37" fill="#ff0808"/>
<path d="M346.21 253.6V297" stroke="#ff4444" stroke-width="1.05"/>
<rect x="344.36" y="256.4" width="3.7" height="9.6" fill="#ff0808"/>
<path d="M351.83 238V262" stroke="#ff4444" stroke-width="1.05"/>
<rect x="349.98" y="248" width="3.7" height="7.6" fill="#ff0808"/>
<path d="M357.44 204V249" stroke="#ff4444" stroke-width="1.05"/>
<rect x="355.59" y="216.4" width="3.7" height="30.6" fill="#ff0808"/>
<path d="M363.06 170V220" stroke="#ff4444" stroke-width="1.05"/>
<rect x="361.21" y="170.6" width="3.7" height="47.4" fill="#ff0808"/>
<path d="M368.68 158V175.6" stroke="#ff4444" stroke-width="1.05"/>
<rect x="366.82" y="170" width="3.7" height="3.6" fill="#ff0808"/>
<path d="M374.29 170V206" stroke="#50f658" stroke-width="1.05"/>
<rect x="372.44" y="170.6" width="3.7" height="15" fill="#00f24c"/>
<path d="M379.91 171V217" stroke="#50f658" stroke-width="1.05"/>
<rect x="378.06" y="184" width="3.7" height="18.4" fill="#00f24c"/>
<path d="M385.52 170V221" stroke="#ff4444" stroke-width="1.05"/>
<rect x="383.67" y="171" width="3.7" height="32" fill="#ff0808"/>
<path d="M391.13 167.6V200" stroke="#50f658" stroke-width="1.05"/>
<rect x="389.28" y="172.4" width="3.7" height="22" fill="#00f24c"/>
<path d="M396.75 173V200" stroke="#50f658" stroke-width="1.05"/>
<rect x="394.9" y="191.6" width="3.7" height="2.8" fill="#00f24c"/>
<path d="M402.37 175V214.4" stroke="#ff4444" stroke-width="1.05"/>
<rect x="400.51" y="181.6" width="3.7" height="12.8" fill="#ff0808"/>
<path d="M407.98 177V200" stroke="#50f658" stroke-width="1.05"/>
<rect x="406.13" y="181.6" width="3.7" height="12.8" fill="#00f24c"/>
<path d="M413.6 181V237.6" stroke="#50f658" stroke-width="1.05"/>
<rect x="411.75" y="195" width="3.7" height="38.6" fill="#00f24c"/>
<path d="M419.21 232V296" stroke="#50f658" stroke-width="1.05"/>
<rect x="417.36" y="232.4" width="3.7" height="59.6" fill="#00f24c"/>
<path d="M424.82 301V362" stroke="#50f658" stroke-width="1.05"/>
<rect x="422.97" y="304.4" width="3.7" height="47.6" fill="#00f24c"/>
<path d="M430.44 329V377" stroke="#50f658" stroke-width="1.05"/>
<rect x="428.59" y="349" width="3.7" height="12.6" fill="#00f24c"/>
<path d="M436.06 324V375" stroke="#ff4444" stroke-width="1.05"/>
<rect x="434.2" y="340.4" width="3.7" height="19.6" fill="#ff0808"/>
<path d="M441.67 323V403" stroke="#50f658" stroke-width="1.05"/>
<rect x="439.82" y="338" width="3.7" height="49" fill="#00f24c"/>
<path d="M447.29 371V410" stroke="#50f658" stroke-width="1.05"/>
<rect x="445.44" y="384.4" width="3.7" height="6" fill="#00f24c"/>
<path d="M452.9 370V402.4" stroke="#ff4444" stroke-width="1.05"/>
<rect x="451.05" y="374.4" width="3.7" height="14" fill="#ff0808"/>
<path d="M458.51 342V377" stroke="#ff4444" stroke-width="1.05"/>
<rect x="456.66" y="349" width="3.7" height="27.4" fill="#ff0808"/>
<path d="M464.13 333.6V385" stroke="#50f658" stroke-width="1.05"/>
<rect x="462.28" y="350" width="3.7" height="4.4" fill="#00f24c"/>
<path d="M469.75 338.4V369" stroke="#ff4444" stroke-width="1.05"/>
<rect x="467.89" y="347.6" width="3.7" height="7.4" fill="#ff0808"/>
<path d="M475.36 285V348" stroke="#ff4444" stroke-width="1.05"/>
<rect x="473.51" y="286.4" width="3.7" height="61.6" fill="#ff0808"/>
<path d="M480.98 273V297" stroke="#50f658" stroke-width="1.05"/>
<rect x="479.12" y="285" width="3.7" height="4" fill="#00f24c"/>
<path d="M486.59 261V325" stroke="#50f658" stroke-width="1.05"/>
<rect x="484.74" y="287" width="3.7" height="35" fill="#00f24c"/>
<path d="M492.2 309V327" stroke="#ff4444" stroke-width="1.05"/>
<rect x="490.35" y="316.4" width="3.7" height="6" fill="#ff0808"/>
<path d="M497.82 315V357.6" stroke="#50f658" stroke-width="1.05"/>
<rect x="495.97" y="316" width="3.7" height="22" fill="#00f24c"/>
<path d="M503.44 310V356.4" stroke="#ff4444" stroke-width="1.05"/>
<rect x="501.58" y="314" width="3.7" height="23" fill="#ff0808"/>
<path d="M509.05 313V330" stroke="#50f658" stroke-width="1.05"/>
<rect x="507.2" y="314.4" width="3.7" height="7.6" fill="#00f24c"/>
<path d="M514.67 303.6V362.4" stroke="#50f658" stroke-width="1.05"/>
<rect x="512.82" y="320.4" width="3.7" height="3.2" fill="#00f24c"/>
<path d="M520.28 305V336" stroke="#ff4444" stroke-width="1.05"/>
<rect x="518.43" y="314.4" width="3.7" height="8" fill="#ff0808"/>
<path d="M525.9 292V326" stroke="#ff4444" stroke-width="1.05"/>
<rect x="524.05" y="297" width="3.7" height="19" fill="#ff0808"/>
<path d="M531.51 286V306" stroke="#ff4444" stroke-width="1.05"/>
<rect x="529.66" y="294.4" width="3.7" height="4" fill="#ff0808"/>
<path d="M537.13 295.5V315" stroke="#50f658" stroke-width="1.05"/>
<rect x="535.28" y="300" width="3.7" height="6.6" fill="#00f24c"/>
<path d="M542.74 297V329" stroke="#50f658" stroke-width="1.05"/>
<rect x="540.89" y="306" width="3.7" height="14" fill="#00f24c"/>
<path d="M548.36 299V353" stroke="#50f658" stroke-width="1.05"/>
<rect x="546.5" y="318.4" width="3.7" height="19.6" fill="#00f24c"/>
<path d="M553.97 333V378" stroke="#50f658" stroke-width="1.05"/>
<rect x="552.12" y="339" width="3.7" height="5.4" fill="#00f24c"/>
<path d="M559.59 300V352.4" stroke="#ff4444" stroke-width="1.05"/>
<rect x="557.74" y="301.6" width="3.7" height="42.4" fill="#ff0808"/>
<path d="M565.2 277V319" stroke="#50f658" stroke-width="1.05"/>
<rect x="563.35" y="298" width="3.7" height="16.4" fill="#00f24c"/>
<path d="M570.82 263V316" stroke="#ff4444" stroke-width="1.05"/>
<rect x="568.97" y="265" width="3.7" height="50" fill="#ff0808"/>
<path d="M576.43 254V277" stroke="#50f658" stroke-width="1.05"/>
<rect x="574.58" y="264" width="3.7" height="2.4" fill="#00f24c"/>
<path d="M582.05 251V284" stroke="#ff4444" stroke-width="1.05"/>
<rect x="580.2" y="254" width="3.7" height="12.7" fill="#ff0808"/>
<path d="M587.66 240.4V271" stroke="#50f658" stroke-width="1.05"/>
<rect x="585.81" y="254.4" width="3.7" height="8" fill="#00f24c"/>
<path d="M593.28 248V270" stroke="#50f658" stroke-width="1.05"/>
<rect x="591.43" y="260" width="3.7" height="2" fill="#00f24c"/>
<path d="M598.89 257.6V273" stroke="#50f658" stroke-width="1.05"/>
<rect x="597.04" y="263" width="3.7" height="5.4" fill="#00f24c"/>
<path d="M604.51 231V268.4" stroke="#ff4444" stroke-width="1.05"/>
<rect x="602.66" y="242.4" width="3.7" height="25.6" fill="#ff0808"/>
<path d="M610.12 211.6V256.4" stroke="#ff4444" stroke-width="1.05"/>
<rect x="608.27" y="215" width="3.7" height="28" fill="#ff0808"/>
<path d="M615.74 193.6V222.4" stroke="#ff4444" stroke-width="1.05"/>
<rect x="613.88" y="199" width="3.7" height="18.6" fill="#ff0808"/>
<path d="M621.35 190V212" stroke="#50f658" stroke-width="1.05"/>
<rect x="619.5" y="196" width="3.7" height="5" fill="#00f24c"/>
<path d="M626.97 200V229" stroke="#50f658" stroke-width="1.05"/>
<rect x="625.12" y="201" width="3.7" height="24.6" fill="#00f24c"/>
<path d="M632.58 194V229.6" stroke="#ff4444" stroke-width="1.05"/>
<rect x="630.73" y="201" width="3.7" height="23.4" fill="#ff0808"/>
<path d="M638.2 195V212.4" stroke="#50f658" stroke-width="1.05"/>
<rect x="636.35" y="202" width="3.7" height="5" fill="#00f24c"/>
<path d="M643.81 203V223" stroke="#ff4444" stroke-width="1.05"/>
<rect x="641.96" y="204.4" width="3.7" height="3.2" fill="#ff0808"/>
<path d="M649.43 192.4V208" stroke="#ff4444" stroke-width="1.05"/>
<rect x="647.58" y="194.4" width="3.7" height="6" fill="#ff0808"/>
</g>
<path d="M3.2 118.5V184" stroke="#5c1c9c" stroke-width="1.4"/><path d="M3.3 184V201" stroke="#7a4ac0" stroke-width="1.3"/>
<path d="M355 169.85L383.61 170.89L413.59 171.37L411.58 173.06L418.6 169.9L411.62 166.66L413.61 168.37L383.63 168.47L355 169.15Z" fill="#404040"/>
<path d="M366.51 209.95L387.67 210.38L408.72 210.28L406.75 211.92L413.5 208.8L406.65 205.92L408.68 207.48L387.63 208.1L366.49 209.25Z" fill="#404040"/>
<path d="M650.51 208.5L670.88 208.69L690.55 208.32L688.61 210.04L695.7 206.6L688.4 203.64L690.45 205.22L670.8 206.16L650.49 207.7Z" fill="#ffb200"/>
<path d="M650.51 217.4L670.86 217.9L690.53 217.84L688.56 219.53L695.7 216.2L688.44 213.13L690.47 214.74L670.82 215.38L650.49 216.6Z" fill="#ffb200"/>
<path d="M650.01 271L670.61 271.18L690.16 270.79L688.22 272.66L695.7 269L687.99 265.87L690.05 267.6L670.52 268.58L649.99 270.2Z" fill="#ffb200"/>
<text x="357.3" y="145.2" font-size="11.8" fill="#404040" style="font-family:'Liberation Sans','Noto Sans CJK SC',sans-serif">前波盘整阻力</text>
<text x="701" y="206.3" font-size="11.6" fill="#404040" style="font-family:'Liberation Sans','Noto Sans CJK SC',sans-serif">5日均线</text>
<text x="695.8" y="221" font-size="11.6" fill="#404040" style="font-family:'Liberation Sans','Noto Sans CJK SC',sans-serif">10日均线</text>
<text x="699.4" y="272.8" font-size="11.6" fill="#404040" style="font-family:'Liberation Sans','Noto Sans CJK SC',sans-serif">60日均线</text>
<text x="4.8" y="414.6" font-size="11.95" fill="#333333" style="font-family:'Liberation Sans','Noto Sans CJK SC',sans-serif">2022年8月8日 道琼斯日K线</text>
</g>
</svg></body></html>
